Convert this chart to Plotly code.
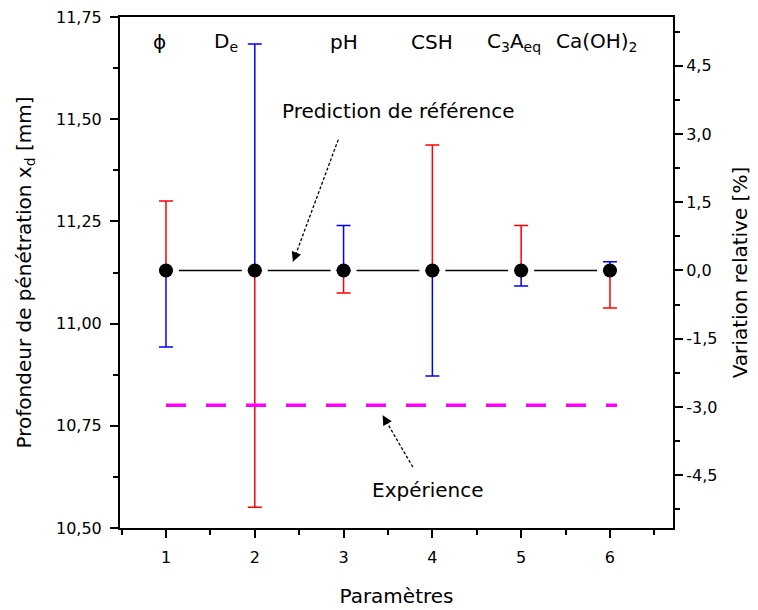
import plotly.graph_objects as go

# données
params = [1, 2, 3, 4, 5, 6]
x_ref = [11.13, 11.13, 11.13, 11.13, 11.13, 11.13]
# extrémités des barres (mm)
haut = [11.30, 11.684, 11.24, 11.437, 11.24, 11.151]
bas = [10.943, 10.551, 11.075, 10.872, 11.092, 11.038]
couleur_haut = ['red', 'blue', 'blue', 'red', 'red', 'blue']
experience = 10.80
exp_x = [1, 6.08]
noms = ['ϕ', 'D<sub>e</sub>', 'pH', 'CSH', 'C<sub>3</sub>A<sub>eq</sub>', 'Ca(OH)<sub>2</sub>']
noms_x = [0.93, 1.68, 3.0, 4.0, 4.92, 5.85]
var_ticks = [-4.5, -3.0, -1.5, 0.0, 1.5, 3.0, 4.5]

yrange = [10.5, 11.75]
ref = x_ref[0]
y2range = [(yrange[0] / ref - 1) * 100, (yrange[1] / ref - 1) * 100]

font = 'DejaVu Sans'
fig = go.Figure()

# ligne de référence
fig.add_trace(go.Scatter(x=params, y=x_ref, mode='lines',
                         line=dict(color='black', width=1.5), showlegend=False))
# trous blancs autour des points
fig.add_trace(go.Scatter(x=params, y=x_ref, mode='markers',
                         marker=dict(color='white', size=26), showlegend=False))

# barres d'erreur rouges / bleues
for col in ['red', 'blue']:
    plus = [h - c if ch == col else 0 for h, c, ch in zip(haut, x_ref, couleur_haut)]
    moins = [c - b if ch != col else 0 for b, c, ch in zip(bas, x_ref, couleur_haut)]
    fig.add_trace(go.Scatter(
        x=params, y=x_ref, mode='markers', marker=dict(size=1, opacity=0),
        error_y=dict(type='data', symmetric=False, array=plus, arrayminus=moins,
                     color=col, thickness=1.5, width=7),
        showlegend=False))

# points
fig.add_trace(go.Scatter(x=params, y=x_ref, mode='markers',
                         marker=dict(color='black', size=14), showlegend=False))

# expérience
fig.add_trace(go.Scatter(x=exp_x, y=[experience] * len(exp_x), mode='lines',
                         line=dict(color='#ff00ff', width=3.5, dash='20px,20px'),
                         showlegend=False))

# axe droit
fig.add_trace(go.Scatter(x=[params[0]], y=[0], yaxis='y2', mode='markers',
                         marker=dict(opacity=0), showlegend=False, hoverinfo='skip'))

for n, xn in zip(noms, noms_x):
    fig.add_annotation(x=xn, y=11.69, text=n, showarrow=False,
                       font=dict(size=20, color='black', family=font))

# flèches : tige pointillée + pointe
fleches = [((2.94, 11.45), (2.43, 11.151), (3.5, -9.4)),
           ((3.78, 10.649), (3.44, 10.776), (5, 8.7))]
for (x0, y0), (x1, y1), (dx, dy) in fleches:
    fig.add_shape(type='line', x0=x0, y0=y0, x1=x1, y1=y1, xref='x', yref='y',
                  line=dict(color='black', width=1.3, dash='3px,2px'))
    fig.add_annotation(x=x1, y=y1, ax=dx, ay=dy, text='', showarrow=True,
                       arrowhead=2, arrowsize=1.5, arrowwidth=1.3, arrowcolor='black')

fig.add_annotation(x=3.62, y=11.52, text='Prediction de référence', showarrow=False,
                   font=dict(size=20, color='black', family=font))
fig.add_annotation(x=3.95, y=10.593, text='Expérience', showarrow=False,
                   font=dict(size=20, color='black', family=font))

axe = dict(showgrid=False, zeroline=False, showline=True, linecolor='black',
           linewidth=2, ticks='outside', ticklen=8, tickwidth=1.5, tickcolor='black',
           automargin=False, ticklabeloverflow='allow',
           tickfont=dict(size=16, color='black', family=font))

# la page ajoute 8 px de marge au body : figure réduite d'autant
fig.update_layout(
    width=750, height=602,
    margin=dict(l=112, r=85, t=9, b=82),
    paper_bgcolor='white', plot_bgcolor='white',
    separators=', ',
    font=dict(family=font, color='black'),
    xaxis=dict(**axe, range=[0.482, 6.71], tickvals=params, mirror=True,
               ticklabelstandoff=6,
               minor=dict(dtick=0.5, tick0=0.5, ticklen=5, ticks='outside', tickcolor='black'),
               title=dict(text='Paramètres', font=dict(size=20), standoff=23)),
    yaxis=dict(**axe, range=yrange, dtick=0.25, tick0=10.5, tickformat='.2f',
               ticklabelstandoff=5,
               minor=dict(dtick=0.125, ticklen=5, ticks='outside', tickcolor='black'),
               title=dict(text='Profondeur de pénétration x<sub>d</sub> [mm]',
                          font=dict(size=20), standoff=19)),
    yaxis2=dict(**axe, overlaying='y', side='right', range=y2range,
                tickvals=var_ticks, ticktext=[f'{v:.1f}'.replace('.', ',') for v in var_ticks],
                minor=dict(dtick=0.75, tick0=0, ticklen=5, ticks='outside', tickcolor='black'),
                title=dict(text='Variation relative [%]', font=dict(size=20), standoff=17)),
)

fig.write_html('out.html')
